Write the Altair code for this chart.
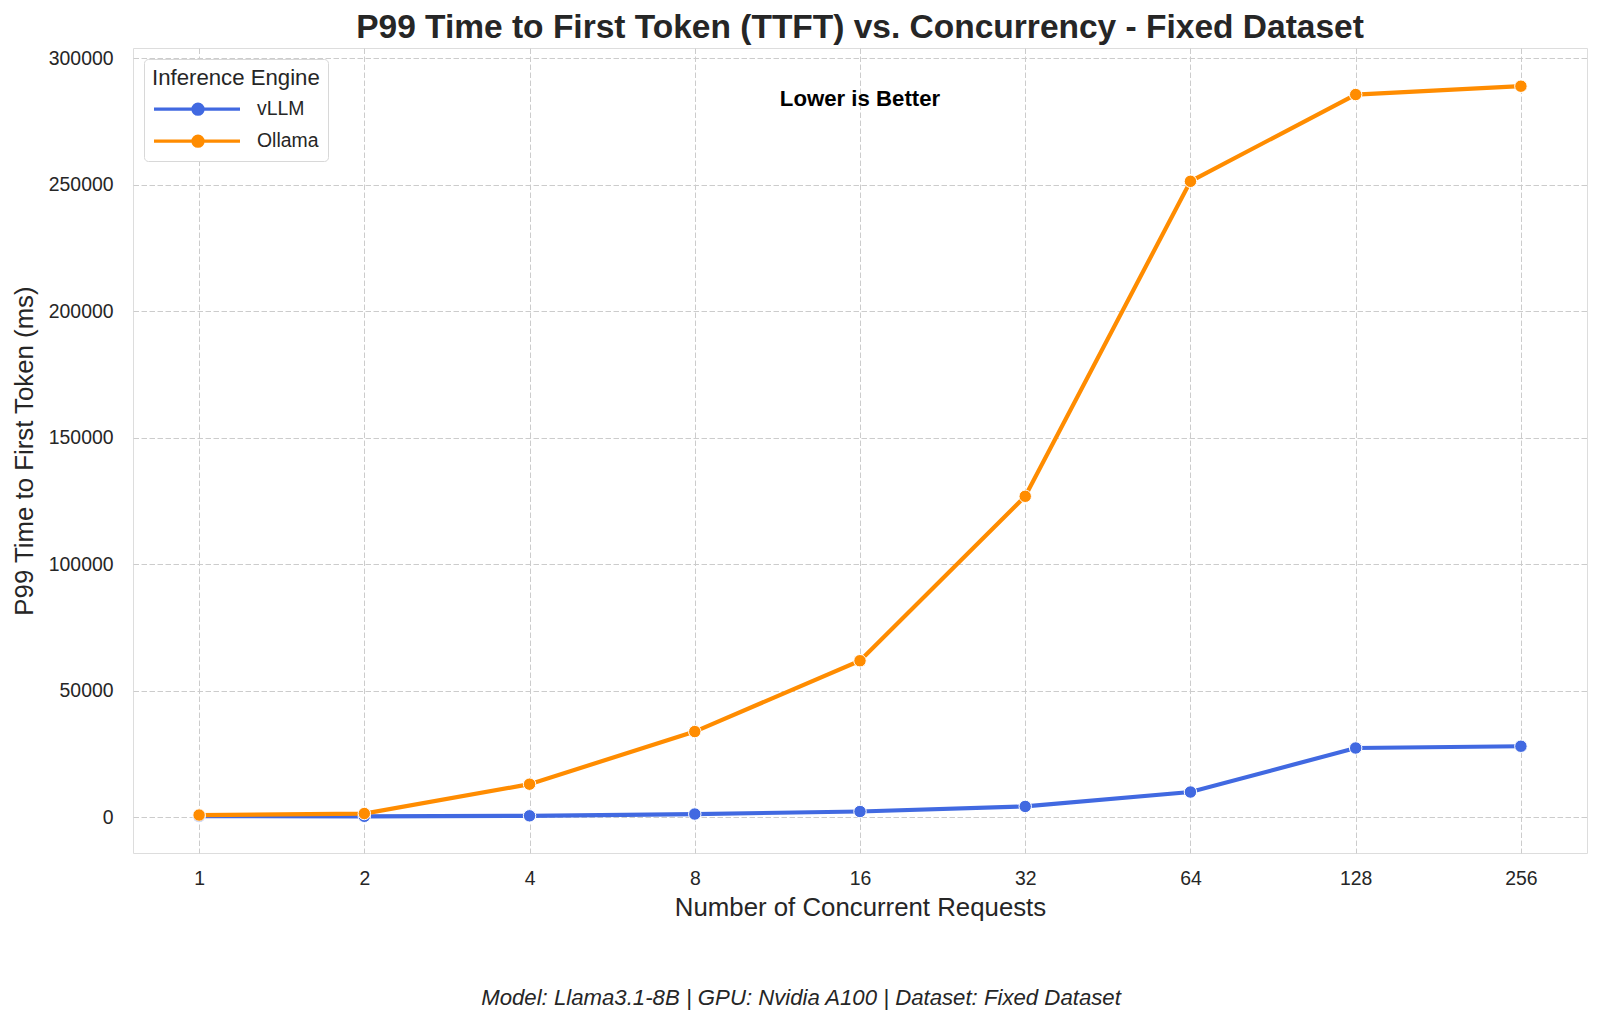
import altair as alt
import pandas as pd

concurrency = [1, 2, 4, 8, 16, 32, 64, 128, 256]
vllm_ttft = [400, 300, 500, 1200, 2200, 4200, 9900, 27300, 28000]
ollama_ttft = [800, 1400, 13000, 33800, 61800, 126800, 251300, 285600, 288900]
engines = ["vLLM", "Ollama"]
colors = ["#4169E1", "#FF8C00"]
x_ticks = [1, 2, 4, 8, 16, 32, 64, 128, 256]
y_ticks = [0, 50000, 100000, 150000, 200000, 250000, 300000]

title_text = "P99 Time to First Token (TTFT) vs. Concurrency - Fixed Dataset"
note_text = "Lower is Better"
footer_text = "Model: Llama3.1-8B | GPU: Nvidia A100 | Dataset: Fixed Dataset"

rows = []
for c, v in zip(concurrency, vllm_ttft):
    rows.append({"Concurrency": c, "TTFT": v, "Engine": engines[0]})
for c, v in zip(concurrency, ollama_ttft):
    rows.append({"Concurrency": c, "TTFT": v, "Engine": engines[1]})
df = pd.DataFrame(rows)

FONT = "Liberation Sans"
TXT = "#262626"
W, H = 1454, 805

xscale = alt.Scale(type="log", base=2, domain=[2 ** -0.4, 2 ** 8.4], nice=False)
yscale = alt.Scale(domain=[-14200, 304000], nice=False, zero=False)
cscale = alt.Scale(domain=engines, range=colors)

x_enc = alt.X("Concurrency:Q", scale=xscale,
              axis=alt.Axis(values=x_ticks, format="d", title="Number of Concurrent Requests",
                            grid=True, gridDash=[5.5, 2.5], gridColor="#cccccc", gridWidth=1,
                            domain=False, ticks=False, labelPadding=16.5,
                            labelFontSize=19.4, titleFontSize=25.8, titlePadding=8,
                            labelFont=FONT, titleFont=FONT, labelColor=TXT,
                            titleColor=TXT, titleFontWeight="normal", labelFlush=False))
y_enc = alt.Y("TTFT:Q", scale=yscale,
              axis=alt.Axis(values=y_ticks, format="d", title="P99 Time to First Token (ms)",
                            grid=True, gridDash=[5.5, 2.5], gridColor="#cccccc", gridWidth=1,
                            domain=False, ticks=False, labelPadding=20,
                            labelFontSize=19.4, titleFontSize=25.8, titlePadding=11,
                            labelFont=FONT, titleFont=FONT, labelColor=TXT,
                            titleColor=TXT, titleFontWeight="normal"))

sym_path = ("M-1,0L7.6,0 "
            "M3.9,0A0.5,0.5 0 1,1 2.9,0A0.5,0.5 0 1,1 3.9,0 "
            "M3.6,0A0.2,0.2 0 1,1 3.2,0A0.2,0.2 0 1,1 3.6,0 "
            "M3.45,0A0.05,0.05 0 1,1 3.35,0A0.05,0.05 0 1,1 3.45,0")

lines = alt.Chart(df).mark_line(strokeWidth=4.2).encode(
    x=x_enc,
    y=y_enc,
    color=alt.Color("Engine:N", scale=cscale, sort=engines,
                    legend=alt.Legend(title="Inference Engine", orient="top-left",
                                      offset=11,
                                      symbolType=sym_path, symbolSize=400,
                                      symbolStrokeWidth=3.3, labelOffset=81,
                                      labelFontSize=19.4, titleFontSize=22.2,
                                      labelFont=FONT, titleFont=FONT,
                                      titleFontWeight="normal", labelColor=TXT,
                                      titleColor=TXT, rowPadding=8,
                                      titlePadding=8, padding=8,
                                      fillColor="white", strokeColor="#d8d8d8",
                                      cornerRadius=4)),
    detail="Engine:N",
)

points = alt.Chart(df).mark_circle(size=155, opacity=1, stroke="white", strokeWidth=1).encode(
    x="Concurrency:Q",
    y="TTFT:Q",
    color=alt.Color("Engine:N", scale=cscale, sort=engines, legend=None),
)

note = alt.Chart(pd.DataFrame({"t": [note_text]})).mark_text(
    font=FONT, fontSize=22.2, fontWeight="bold", color="black", align="center", baseline="middle"
).encode(x=alt.value(W / 2), y=alt.value(51), text="t:N")

footer = alt.Chart(pd.DataFrame({"t": [footer_text]})).mark_text(
    font=FONT, fontSize=22.2, fontStyle="italic", color=TXT, align="center", baseline="middle"
).encode(x=alt.value(668), y=alt.value(950), text="t:N")

chart = alt.layer(lines, points, note, footer).properties(
    width=W, height=H,
    title=alt.TitleParams(title_text, font=FONT, fontSize=33.5, fontWeight="bold",
                          color=TXT, anchor="middle", offset=3),
    autosize=alt.AutoSizeParams(type="none"),
    padding={"left": 125, "top": 40, "right": 5, "bottom": 162},
).configure_view(stroke="#cccccc", strokeWidth=1.7).configure(background="white")

chart.save("out.html", embed_options={"renderer": "svg", "actions": False})
